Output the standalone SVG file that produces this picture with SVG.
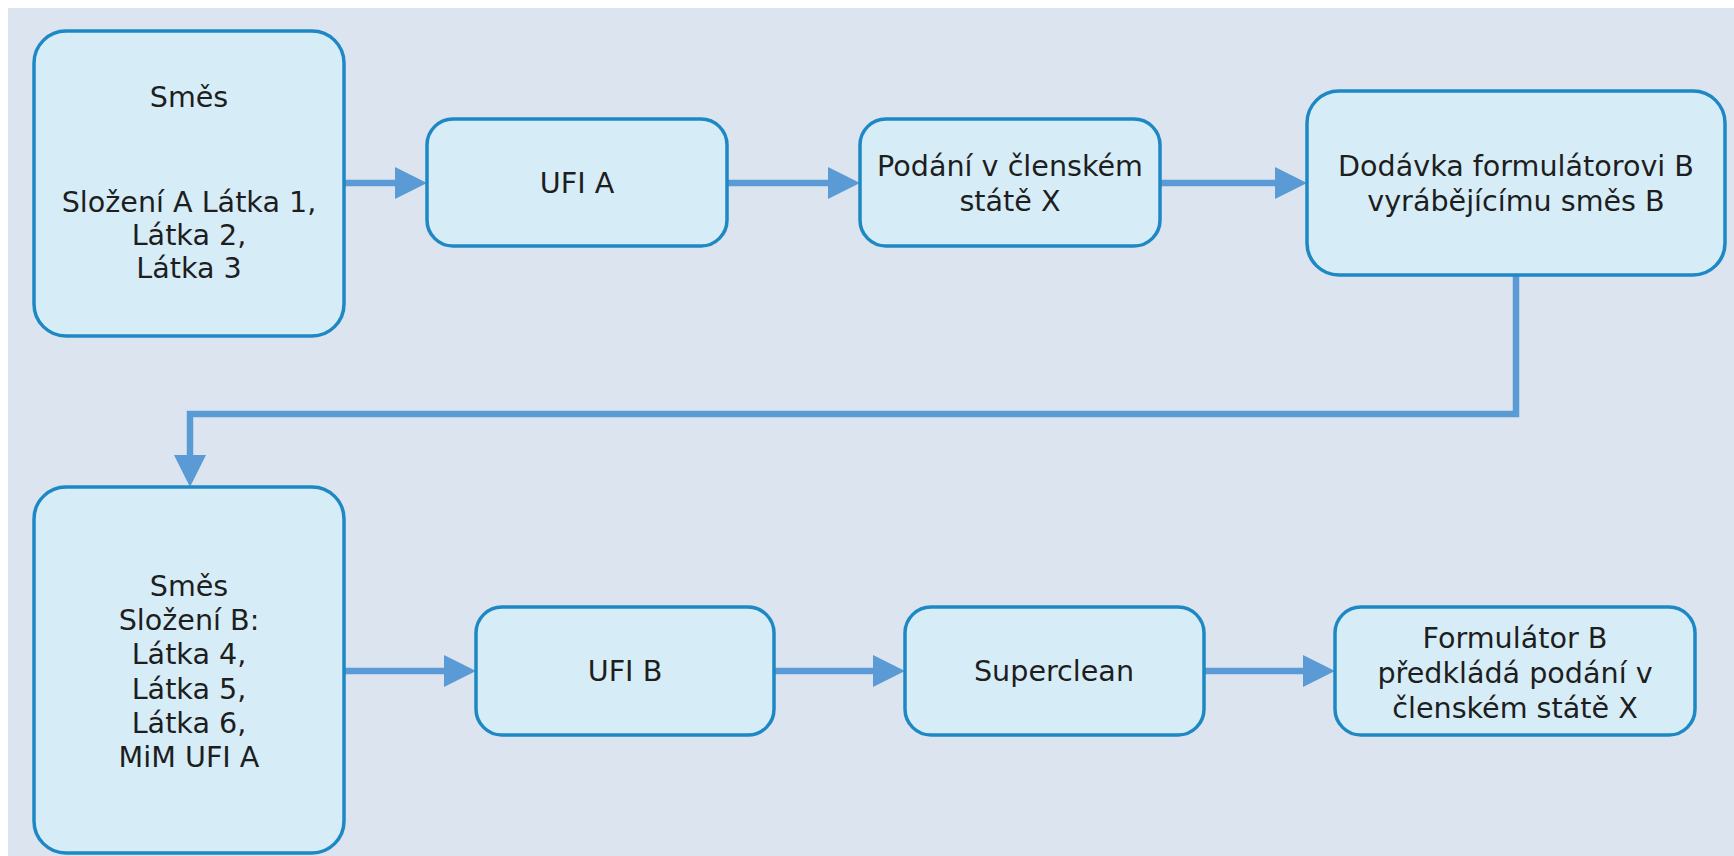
<svg xmlns="http://www.w3.org/2000/svg" width="1734" height="856" viewBox="0 0 1734 856">
  <style>
    .box { fill: #d6edf8; stroke: #1e88c4; stroke-width: 3.5; }
    .lbl { font-family: "DejaVu Sans", Verdana, sans-serif; font-size: 28.6px; fill: #1e1e1e; text-anchor: middle; }
    .conn { fill: none; stroke: #5b9bd5; stroke-width: 6.5; }
  </style>
  <defs>
    <marker id="head" viewBox="0 0 32 32" markerWidth="32" markerHeight="32" refX="10" refY="16" markerUnits="userSpaceOnUse" orient="auto">
      <path d="M0,0 L32,16 L0,32 Z" fill="#5b9bd5"/>
    </marker>
  </defs>

  <rect x="0" y="0" width="1734" height="856" fill="#ffffff"/>
  <rect x="8" y="8" width="1726" height="848" fill="#dbe4ef"/>

  <!-- connectors -->
  <g id="connectors">
    <path class="conn" d="M344,183 H405" marker-end="url(#head)"/>
    <path class="conn" d="M727,183 H838" marker-end="url(#head)"/>
    <path class="conn" d="M1160,183 H1285" marker-end="url(#head)"/>
    <path class="conn" d="M1516,275 V414 H190 V465" marker-end="url(#head)"/>
    <path class="conn" d="M344,671 H454" marker-end="url(#head)"/>
    <path class="conn" d="M774,671 H883" marker-end="url(#head)"/>
    <path class="conn" d="M1204,671 H1313" marker-end="url(#head)"/>
  </g>

  <!-- top row -->
  <g id="mix-a">
    <rect class="box" x="34" y="31" width="310" height="305" rx="32"/>
    <text class="lbl" x="189" y="107">Směs</text>
    <text class="lbl" x="189" y="212">Složení A Látka 1,</text>
    <text class="lbl" x="189" y="245">Látka 2,</text>
    <text class="lbl" x="189" y="278">Látka 3</text>
  </g>
  <g id="ufi-a">
    <rect class="box" x="427" y="119" width="300" height="127" rx="26"/>
    <text class="lbl" x="577" y="193">UFI A</text>
  </g>
  <g id="submission-x">
    <rect class="box" x="860" y="119" width="300" height="127" rx="26"/>
    <text class="lbl" x="1010" y="176">Podání v členském</text>
    <text class="lbl" x="1010" y="211">státě X</text>
  </g>
  <g id="supply-b">
    <rect class="box" x="1307" y="91" width="418" height="184" rx="32"/>
    <text class="lbl" x="1516" y="176">Dodávka formulátorovi B</text>
    <text class="lbl" x="1516" y="211">vyrábějícímu směs B</text>
  </g>

  <!-- bottom row -->
  <g id="mix-b">
    <rect class="box" x="34" y="487" width="310" height="366" rx="32"/>
    <text class="lbl" x="189" y="596">Směs</text>
    <text class="lbl" x="189" y="630">Složení B:</text>
    <text class="lbl" x="189" y="664">Látka 4,</text>
    <text class="lbl" x="189" y="699">Látka 5,</text>
    <text class="lbl" x="189" y="733">Látka 6,</text>
    <text class="lbl" x="189" y="767">MiM UFI A</text>
  </g>
  <g id="ufi-b">
    <rect class="box" x="476" y="607" width="298" height="128" rx="26"/>
    <text class="lbl" x="625" y="681">UFI B</text>
  </g>
  <g id="superclean">
    <rect class="box" x="905" y="607" width="299" height="128" rx="26"/>
    <text class="lbl" x="1054" y="681">Superclean</text>
  </g>
  <g id="formulator-b">
    <rect class="box" x="1335" y="607" width="360" height="128" rx="26"/>
    <text class="lbl" x="1515" y="648">Formulátor B</text>
    <text class="lbl" x="1515" y="683">předkládá podání v</text>
    <text class="lbl" x="1515" y="718">členském státě X</text>
  </g>
</svg>
